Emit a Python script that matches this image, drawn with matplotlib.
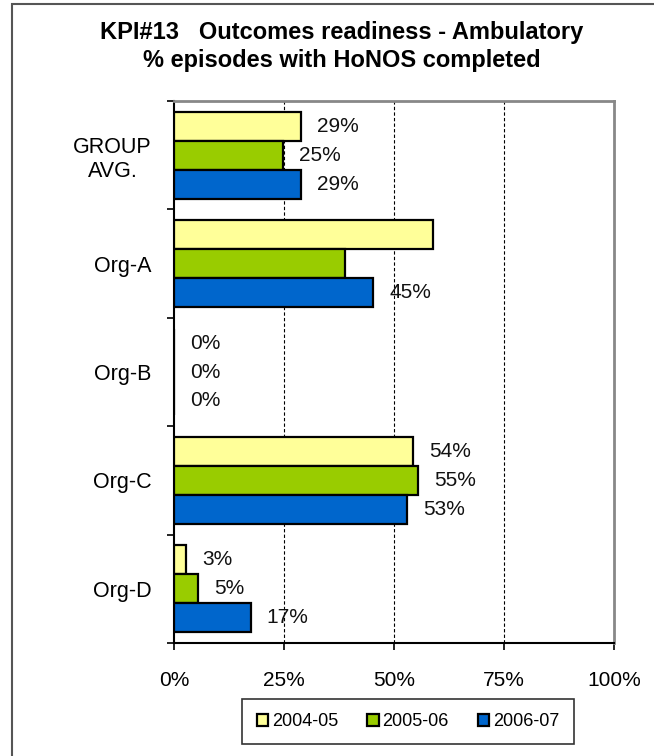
import matplotlib
matplotlib.use("Agg")
import matplotlib.pyplot as plt
from matplotlib.patches import Rectangle
import numpy as np

plt.rcParams['font.family'] = ['Liberation Sans', 'DejaVu Sans']

# data
orgs = ["GROUP\nAVG.", "Org-A", "Org-B", "Org-C", "Org-D"]
years = ["2004-05", "2005-06", "2006-07"]
pct_0405 = [28.9, 58.8, 0.0, 54.4, 2.7]
pct_0506 = [24.8, 38.9, 0.0, 55.4, 5.4]
pct_0607 = [28.9, 45.3, 0.0, 53.0, 17.4]
# which bar values get a label printed next to them
show_0405 = [True, False, True, True, True]
show_0506 = [True, False, True, True, True]
show_0607 = [True, True, True, True, True]
colors = ["#FFFF99", "#99CC00", "#0066CC"]
xticks = [0, 25, 50, 75, 100]

fig = plt.figure(figsize=(6.54, 7.56), dpi=100)
ax = fig.add_axes([174 / 654, 1 - 643 / 756, 440 / 654, 542 / 756])

centers = np.arange(len(orgs)) + 0.5
h = 0.267
series = [(pct_0405, show_0405), (pct_0506, show_0506), (pct_0607, show_0607)]
for k, (vals, show) in enumerate(series):
    ypos = centers + (k - 1) * h
    ax.barh(ypos, vals, height=h, color=colors[k], edgecolor="black",
            linewidth=1.6, label=years[k], zorder=3)
    for y, v, s in zip(ypos, vals, show):
        if s:
            ax.annotate(f"{v:.0f}%", (v, y), xytext=(16, 0),
                        textcoords="offset pixels", ha="left", va="center",
                        fontsize=15, color="#111111")

ax.set_xlim(0, 100)
ax.set_ylim(len(orgs), 0)

ax.set_xticks(xticks)
ax.set_xticklabels([f"{t}%" for t in xticks], fontsize=15)
ax.tick_params(axis="x", direction="out", length=5, width=1.2, pad=15)

ax.set_yticks(np.arange(len(orgs) + 1))
ax.set_yticklabels([])
ax.set_yticks(centers, minor=True)
ax.set_yticklabels(orgs, minor=True, fontsize=15.5, multialignment="center")
ax.tick_params(axis="y", which="major", direction="out", length=5, width=1.2)
ax.tick_params(axis="y", which="minor", length=0, pad=16)

for t in [25, 50, 75]:
    ax.axvline(t, color="black", linestyle=(0, (3, 2)), linewidth=0.8, zorder=1)

for side in ["left", "bottom"]:
    ax.spines[side].set_linewidth(1.5)
    ax.spines[side].set_color("black")
for side in ["top", "right"]:
    ax.spines[side].set_linewidth(2)
    ax.spines[side].set_color("#888888")

fig.text(342 / 654, 1 - 46.5 / 756,
         "KPI#13   Outcomes readiness - Ambulatory\n% episodes with HoNOS completed",
         ha="center", va="center", fontsize=17, fontweight="bold",
         linespacing=1.25)

leg = fig.legend(loc="center", bbox_to_anchor=(408 / 654, 1 - 721.5 / 756),
                 ncol=3, fontsize=13, frameon=True, fancybox=False,
                 edgecolor="black", handlelength=0.65, handleheight=0.65,
                 handletextpad=0.2, columnspacing=1.6, borderpad=0.8)
leg.get_frame().set_linewidth(1.2)

# outer chart border
fig.patches.append(Rectangle((11.5 / 654, -0.1), 1.2, 1.1 - 4.5 / 756,
                             transform=fig.transFigure, fill=False,
                             edgecolor="#555555", linewidth=1.5))

fig.savefig("out.png", dpi=100)
